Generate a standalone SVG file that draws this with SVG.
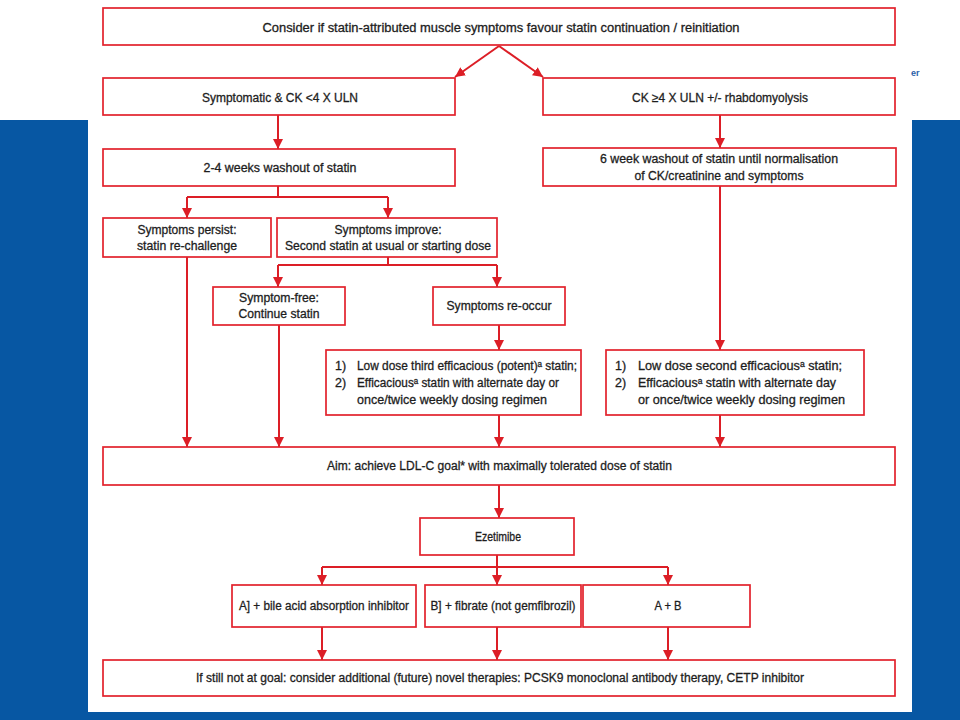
<svg xmlns="http://www.w3.org/2000/svg" width="960" height="720" viewBox="0 0 960 720">
<style>
.box{fill:#fff;stroke:#e2222c;stroke-width:1.7}
.t{font-family:"Liberation Sans","DejaVu Sans",Arial,sans-serif;font-size:12.5px;fill:#1d1d1d;stroke:#1d1d1d;stroke-width:0.3}
.c{text-anchor:middle}
.ln{fill:none;stroke:#dc1e26;stroke-width:2}
</style>
<defs>
<marker id="ah" viewBox="0 0 10 10" refX="10" refY="5" markerWidth="10" markerHeight="10" markerUnits="userSpaceOnUse" orient="auto">
<path d="M0,0 L10,5 L0,10 z" fill="#dc1e26"/>
</marker>
</defs>
<rect x="0" y="0" width="960" height="720" fill="#fff"/>
<rect x="0" y="120" width="960" height="600" fill="#0757a3"/>
<rect x="88" y="120" width="824" height="592" fill="#fff"/>
<text x="911" y="76" font-family="Liberation Sans,Arial,sans-serif" font-size="9" font-weight="bold" fill="#2b5fa8">er</text>

<g id="connectors">
<path class="ln" d="M499,46 L455,77" marker-end="url(#ah)"/>
<path class="ln" d="M499,46 L543,77" marker-end="url(#ah)"/>
<path class="ln" d="M278,115 V149" marker-end="url(#ah)"/>
<path class="ln" d="M720,115 V148" marker-end="url(#ah)"/>
<path class="ln" d="M278,186 V197 M187,197 H388"/>
<path class="ln" d="M187,197 V218" marker-end="url(#ah)"/>
<path class="ln" d="M388,197 V218" marker-end="url(#ah)"/>
<path class="ln" d="M388,257 V265 M278,265 H497"/>
<path class="ln" d="M278,265 V287" marker-end="url(#ah)"/>
<path class="ln" d="M497,265 V287" marker-end="url(#ah)"/>
<path class="ln" d="M187,257 V447" marker-end="url(#ah)"/>
<path class="ln" d="M279,325 V447" marker-end="url(#ah)"/>
<path class="ln" d="M499,325 V350" marker-end="url(#ah)"/>
<path class="ln" d="M720,186 V350" marker-end="url(#ah)"/>
<path class="ln" d="M499,415 V447" marker-end="url(#ah)"/>
<path class="ln" d="M720,415 V447" marker-end="url(#ah)"/>
<path class="ln" d="M499,485 V518" marker-end="url(#ah)"/>
<path class="ln" d="M497,555 V567 M322,567 H668"/>
<path class="ln" d="M322,567 V585" marker-end="url(#ah)"/>
<path class="ln" d="M497,567 V585" marker-end="url(#ah)"/>
<path class="ln" d="M668,567 V585" marker-end="url(#ah)"/>
<path class="ln" d="M322,627 V660" marker-end="url(#ah)"/>
<path class="ln" d="M497,627 V660" marker-end="url(#ah)"/>
<path class="ln" d="M668,627 V660" marker-end="url(#ah)"/>
</g>

<g id="n-consider">
<rect class="box" x="103" y="8" width="792" height="37"/>
<text class="t c" x="501" y="32" textLength="477" lengthAdjust="spacingAndGlyphs">Consider if statin-attributed muscle symptoms favour statin continuation / reinitiation</text>
</g>
<g id="n-symptomatic">
<rect class="box" x="103" y="78" width="352" height="37"/>
<text class="t c" x="280" y="102" textLength="156" lengthAdjust="spacingAndGlyphs">Symptomatic &amp; CK &lt;4 X ULN</text>
</g>
<g id="n-ck4">
<rect class="box" x="543" y="78" width="352" height="37"/>
<text class="t c" x="720" y="102" textLength="176" lengthAdjust="spacingAndGlyphs">CK ≥4 X ULN +/- rhabdomyolysis</text>
</g>
<g id="n-washout24">
<rect class="box" x="103" y="149" width="352" height="37"/>
<text class="t c" x="280" y="172" textLength="153" lengthAdjust="spacingAndGlyphs">2-4 weeks washout of statin</text>
</g>
<g id="n-washout6">
<rect class="box" x="543" y="148" width="353" height="38"/>
<text class="t c" x="719" y="163" textLength="238" lengthAdjust="spacingAndGlyphs">6 week washout of statin until normalisation</text>
<text class="t c" x="719" y="180" textLength="169" lengthAdjust="spacingAndGlyphs">of CK/creatinine and symptoms</text>
</g>
<g id="n-persist">
<rect class="box" x="103" y="218" width="168" height="39"/>
<text class="t c" x="187" y="234" textLength="99" lengthAdjust="spacingAndGlyphs">Symptoms persist:</text>
<text class="t c" x="187" y="250" textLength="100" lengthAdjust="spacingAndGlyphs">statin re-challenge</text>
</g>
<g id="n-improve">
<rect class="box" x="277" y="218" width="220" height="39"/>
<text class="t c" x="388" y="234" textLength="107" lengthAdjust="spacingAndGlyphs">Symptoms improve:</text>
<text class="t c" x="388" y="250" textLength="206" lengthAdjust="spacingAndGlyphs">Second statin at usual or starting dose</text>
</g>
<g id="n-free">
<rect class="box" x="213" y="287" width="132" height="38"/>
<text class="t c" x="279" y="302" textLength="80" lengthAdjust="spacingAndGlyphs">Symptom-free:</text>
<text class="t c" x="279" y="318" textLength="81" lengthAdjust="spacingAndGlyphs">Continue statin</text>
</g>
<g id="n-reoccur">
<rect class="box" x="433" y="287" width="132" height="38"/>
<text class="t c" x="499" y="310" textLength="105" lengthAdjust="spacingAndGlyphs">Symptoms re-occur</text>
</g>
<g id="n-third">
<rect class="box" x="326" y="350" width="255" height="65"/>
<text class="t" x="335" y="370">1)</text>
<text class="t" x="357" y="370" textLength="220" lengthAdjust="spacingAndGlyphs">Low dose third efficacious (potent)ᵃ statin;</text>
<text class="t" x="335" y="387">2)</text>
<text class="t" x="357" y="387" textLength="202" lengthAdjust="spacingAndGlyphs">Efficaciousᵃ statin with alternate day or</text>
<text class="t" x="357" y="404" textLength="190" lengthAdjust="spacingAndGlyphs">once/twice weekly dosing regimen</text>
</g>
<g id="n-second">
<rect class="box" x="606" y="350" width="258" height="65"/>
<text class="t" x="615" y="370">1)</text>
<text class="t" x="638" y="370" textLength="204" lengthAdjust="spacingAndGlyphs">Low dose second efficaciousᵃ statin;</text>
<text class="t" x="615" y="387">2)</text>
<text class="t" x="638" y="387" textLength="198" lengthAdjust="spacingAndGlyphs">Efficaciousᵃ statin with alternate day</text>
<text class="t" x="638" y="404" textLength="207" lengthAdjust="spacingAndGlyphs">or once/twice weekly dosing regimen</text>
</g>
<g id="n-aim">
<rect class="box" x="103" y="447" width="792" height="38"/>
<text class="t" x="327" y="470" textLength="345" lengthAdjust="spacingAndGlyphs">Aim: achieve LDL-C goal* with maximally tolerated dose of statin</text>
</g>
<g id="n-ezetimibe">
<rect class="box" x="420" y="518" width="154" height="37"/>
<text class="t c" x="498" y="541" textLength="46" lengthAdjust="spacingAndGlyphs">Ezetimibe</text>
</g>
<g id="n-a">
<rect class="box" x="232" y="585" width="184" height="42"/>
<text class="t c" x="324" y="610" textLength="170" lengthAdjust="spacingAndGlyphs">A] + bile acid absorption inhibitor</text>
</g>
<g id="n-b">
<rect class="box" x="425" y="585" width="156" height="42"/>
<text class="t c" x="503" y="610" textLength="145" lengthAdjust="spacingAndGlyphs">B] + fibrate (not gemfibrozil)</text>
</g>
<g id="n-ab">
<rect class="box" x="583" y="585" width="167" height="42"/>
<text class="t c" x="668" y="610" textLength="27" lengthAdjust="spacingAndGlyphs">A + B</text>
</g>
<g id="n-novel">
<rect class="box" x="103" y="660" width="792" height="36"/>
<text class="t c" x="500" y="682" textLength="608" lengthAdjust="spacingAndGlyphs">If still not at goal: consider additional (future) novel therapies: PCSK9 monoclonal antibody therapy, CETP inhibitor</text>
</g>
</svg>
